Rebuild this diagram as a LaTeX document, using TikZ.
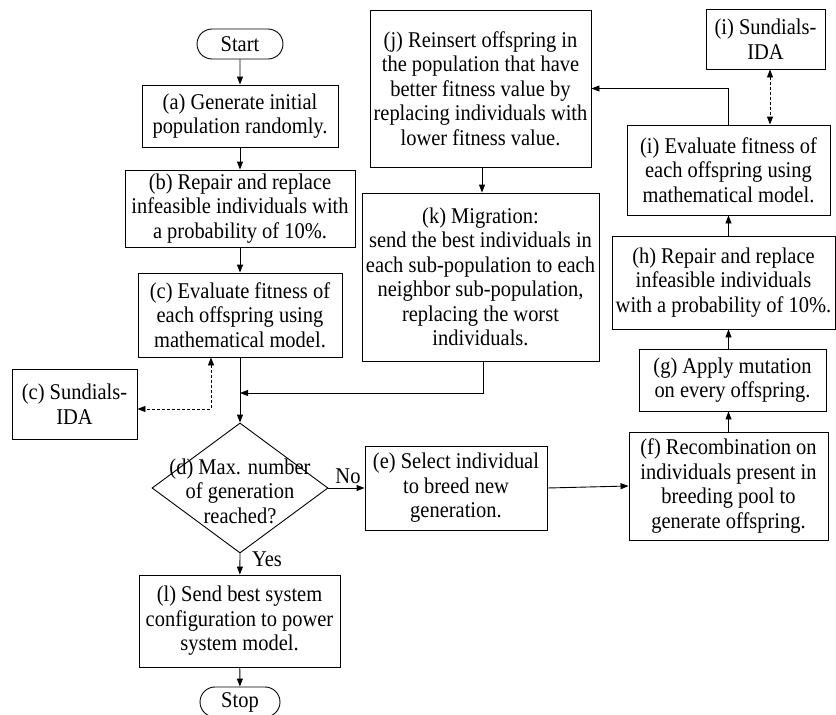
\documentclass[tikz,border=0pt]{standalone}
\usepackage{fontspec}
\setmainfont[FakeStretch=0.91]{Liberation Serif}
\usetikzlibrary{arrows.meta,shapes.geometric,shapes.misc}

\tikzset{
  every picture/.style={x=1pt,y=-1pt},
  txt/.style={font=\fontsize{22.5}{24.5}\selectfont, align=center, inner sep=0pt},
  box/.style={txt, draw, line width=0.9pt, rectangle},
  term/.style={txt, draw, line width=0.9pt, rounded rectangle},
  decision/.style={draw, line width=0.9pt, diamond, inner sep=0pt},
  flow/.style={line width=0.9pt, -{Triangle[length=8pt,width=6pt]}},
  link/.style={line width=0.9pt, dashed, dash pattern=on 3pt off 2pt,
    {Triangle[length=8pt,width=6pt]}-{Triangle[length=8pt,width=6pt]}},
}

\begin{document}
\begin{tikzpicture}
\useasboundingbox (0,0) rectangle (836,715);

% left column
\node[term, minimum width=86pt, minimum height=30pt] (start) at (240,44) {Start};
\node[box, minimum width=196pt, minimum height=62pt] (a) at (240,116)
  {(a) Generate initial\\population randomly.};
\node[box, minimum width=230pt, minimum height=77pt] (b) at (240,208.5)
  {(b) Repair and replace\\infeasible individuals with\\a probability of 10\%.};
\node[box, minimum width=204pt, minimum height=84pt] (c) at (240,315)
  {(c) Evaluate fitness of\\each offspring using\\mathematical model.};
\node[box, minimum width=125pt, minimum height=70pt] (cs) at (74.5,404)
  {(c) Sundials-\\IDA};
\node[decision, minimum width=176pt, minimum height=130pt] (d) at (240,488) {};
\node[txt] (dt) at (240,491) {(d) Max. number\\of generation\\reached?};
\node[box, minimum width=201pt, minimum height=92pt] (l) at (239.5,621)
  {(l) Send best system\\configuration to power\\system model.};
\node[term, minimum width=80pt, minimum height=30pt] (stop) at (240,702) {Stop};

% middle
\node[box, minimum width=182pt, minimum height=84pt] (e) at (456,488)
  {(e) Select individual\\to breed new\\generation.};
\node[box, minimum width=221pt, minimum height=157pt] (j) at (480.5,88.5)
  {(j) Reinsert offspring in\\the population that have\\better fitness value by\\replacing individuals with\\lower fitness value.};
\node[box, minimum width=237pt, minimum height=168pt] (k) at (480.5,277)
  {(k) Migration:\\send the best individuals in\\each sub-population to each\\neighbor sub-population,\\replacing the worst\\individuals.};

% right column
\node[box, minimum width=199pt, minimum height=108pt] (f) at (728.5,486)
  {(f) Recombination on\\individuals present in\\breeding pool to\\generate offspring.};
\node[box, minimum width=187pt, minimum height=62pt] (g) at (732.5,380)
  {(g) Apply mutation\\on every offspring.};
\node[box, minimum width=223pt, minimum height=93pt] (h) at (723.5,282.5)
  {(h) Repair and replace\\infeasible individuals\\with a probability of 10\%.};
\node[box, minimum width=203pt, minimum height=90pt] (i) at (728.5,170)
  {(i) Evaluate fitness of\\each offspring using\\mathematical model.};
\node[box, minimum width=119pt, minimum height=60pt] (is) at (765.5,39)
  {(i) Sundials-\\IDA};

% labels
\node[txt] (no) at (348,476) {No};
\node[txt] (yes) at (267,559) {Yes};

% junction where the migration loop rejoins the main flow
\coordinate (jn) at (240,393);

% main flow
\draw[flow] (start) -- (a);
\draw[flow] (a) -- (b);
\draw[flow] (b) -- (c);
\draw[flow] (c) -- (d.north);
\draw[flow] (d.south) -- (l);
\draw[flow] (l) -- (stop);
\draw[flow] (d.east) -- (e.west);
\draw[flow] (e.east) -- (f.west);
\draw[flow] (f.north) -- (f.north |- g.south);
\draw[flow] (f.north |- g.north) -- (f.north |- h.south);
\draw[flow] (f.north |- h.north) -- (i.south);
\draw[flow] (i.north) |- (j.east);
\draw[flow] ([xshift=1.5pt]j.south) -- ([xshift=1.5pt]k.north);
\draw[flow] ([xshift=2.5pt]k.south) |- (jn);

% solver links
\draw[link] ([xshift=-29pt]c.south) |- ([yshift=-5pt]cs.east);
\draw[link] ([xshift=4.5pt]is.south) -- ([xshift=4.5pt]is.south |- i.north);
\end{tikzpicture}
\end{document}
